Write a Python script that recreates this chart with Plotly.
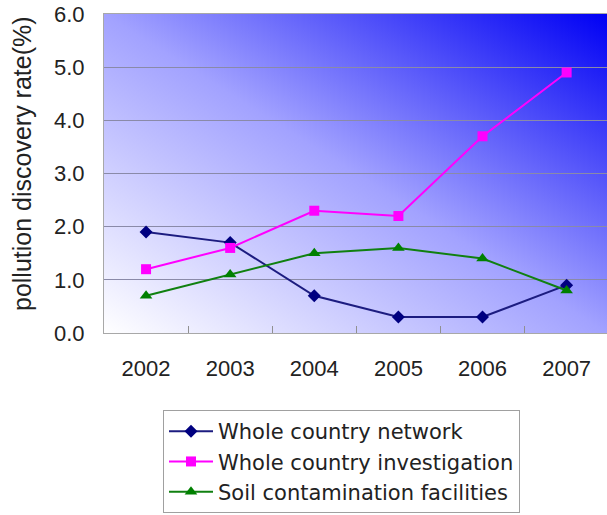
import base64
import plotly.graph_objects as go

years = ["2002", "2003", "2004", "2005", "2006", "2007"]
network = [1.9, 1.7, 0.7, 0.3, 0.3, 0.9]
investigation = [1.2, 1.6, 2.3, 2.2, 3.7, 4.9]
soil = [0.7, 1.1, 1.5, 1.6, 1.4, 0.8]
y_ticks = [0, 1, 2, 3, 4, 5, 6]

FONT = "Liberation Sans, Arial, sans-serif"
LFONT = "DejaVu Sans, sans-serif"
xpos = list(range(len(years)))

svg = (
    '<svg xmlns="http://www.w3.org/2000/svg" width="100" height="100" '
    'viewBox="0 0 100 100" preserveAspectRatio="none">'
    '<defs><linearGradient id="g" x1="0" y1="1" x2="1" y2="0">'
    '<stop offset="0" stop-color="#FFFFFF"/>'
    '<stop offset="0.5" stop-color="#A2A2FF"/>'
    '<stop offset="1" stop-color="#0000F4"/>'
    '</linearGradient></defs>'
    '<rect x="0" y="0" width="100" height="100" fill="url(#g)"/></svg>'
)
svg_uri = "data:image/svg+xml;base64," + base64.b64encode(svg.encode()).decode()

fig = go.Figure()
fig.add_trace(go.Scatter(
    x=xpos, y=network, name="Whole country network", mode="lines+markers",
    line=dict(color="#1C1C80", width=2),
    marker=dict(symbol="diamond", size=10, color="#000080"),
))
fig.add_trace(go.Scatter(
    x=xpos, y=investigation, name="Whole country investigation", mode="lines+markers",
    line=dict(color="#FF00FF", width=2),
    marker=dict(symbol="square", size=10, color="#FF00FF"),
))
fig.add_trace(go.Scatter(
    x=xpos, y=soil, name="Soil contamination facilities", mode="lines+markers",
    line=dict(color="#108010", width=2),
    marker=dict(symbol="triangle-up", size=11, color="#008000"),
))

fig.update_layout(
    width=607, height=515,
    margin=dict(l=104, r=0, t=14, b=182, autoexpand=False),
    paper_bgcolor="white",
    plot_bgcolor="rgba(0,0,0,0)",
    font=dict(family=FONT, size=22, color="#222222"),
    images=[dict(source=svg_uri, xref="paper", yref="paper", x=0, y=1,
                 sizex=1, sizey=1, sizing="stretch", layer="below",
                 xanchor="left", yanchor="top")],
    xaxis=dict(
        range=[-0.5, 5.48], tickmode="array", tickvals=xpos, ticktext=years,
        ticks="", showgrid=False, zeroline=False,
        showline=True, linecolor="#A8A8A8", linewidth=1, mirror=True,
        ticklabelstandoff=16,
        minor=dict(tickmode="array", tickvals=[i + 0.5 for i in xpos],
                   ticks="inside", ticklen=7, tickcolor="#909090", tickwidth=1,
                   showgrid=False),
        tickfont=dict(size=22),
    ),
    yaxis=dict(
        range=[0, 6], tickmode="array", tickvals=y_ticks, tickformat=".1f",
        ticks="", showgrid=True, gridcolor="#8A8AA8", gridwidth=1,
        zeroline=False, showline=True, linecolor="#A8A8A8", linewidth=1, mirror=True,
        ticklabelstandoff=14, tickfont=dict(size=22),
    ),
    showlegend=True,
    legend=dict(
        x=(163 - 104) / 503, y=(333 - 410) / 319, xanchor="left", yanchor="top",
        bordercolor="#A0A0A0", borderwidth=1, bgcolor="white",
        font=dict(family=LFONT, size=21, color="#222222"),
        tracegroupgap=0, itemwidth=44,
    ),
    annotations=[dict(
        text="pollution discovery rate(%)", textangle=-90,
        xref="paper", yref="paper", x=(22 - 104) / 503, y=(333 - 164) / 319,
        showarrow=False, font=dict(family=FONT, size=25, color="#222222"),
        xanchor="center", yanchor="middle",
    )],
)

fig.write_html("out.html")
